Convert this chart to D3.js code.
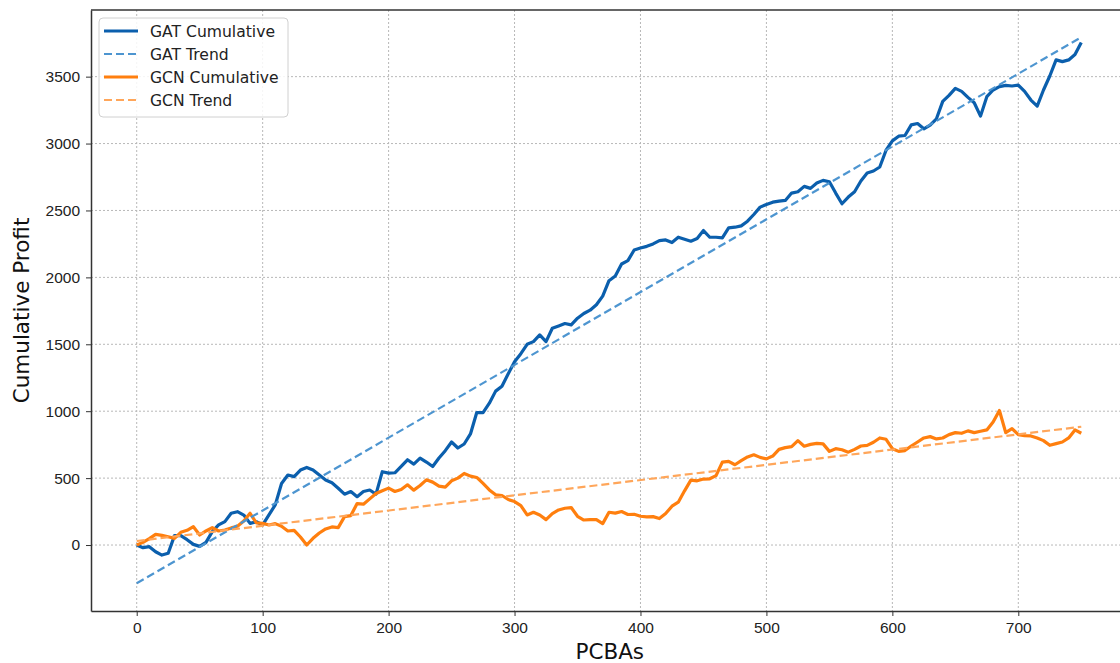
<!DOCTYPE html>
<html>
<head>
<meta charset="utf-8">
<script src="https://cdn.jsdelivr.net/npm/d3@7"></script>
<style>
  body { margin: 0; background: #fff; }
  svg { display: block; font-family: "DejaVu Sans", sans-serif; }
  .grid line { stroke: #b8b8b8; stroke-width: 1; stroke-dasharray: 2,2; }
  .axis path, .axis line { stroke: #333; }
  .axis text { fill: #222; font-size: 15.5px; }
</style>
</head>
<body>
<div id="chart"></div>
<script>

// x positions of the sampled points (every 5 PCBAs)
let pcbas = d3.range(0, 751, 5);

let gatCumulative = [
  0, -20, -12, -50, -75, -62, 70, 70, 40, 5,
  -10, 20, 100, 150, 175, 237, 249, 224, 162, 174,
  150, 225, 300, 460, 523, 511, 560, 580, 561, 523,
  486, 465, 424, 380, 400, 361, 400, 411, 380, 548,
  537, 540, 587, 637, 605, 650, 620, 587, 650, 705,
  770, 725, 755, 830, 990, 990, 1060, 1150, 1187, 1280,
  1370, 1430, 1500, 1520, 1570, 1520, 1620, 1637, 1655, 1645,
  1695, 1730, 1755, 1795, 1860, 1975, 2010, 2100, 2125, 2205,
  2220, 2232, 2250, 2275, 2280, 2260, 2300, 2285, 2270, 2290,
  2350, 2300, 2300, 2295, 2370, 2375, 2385, 2420, 2470, 2525,
  2545, 2562, 2570, 2575, 2630, 2640, 2680, 2665, 2705, 2725,
  2715, 2630, 2550, 2600, 2640, 2720, 2780, 2795, 2825, 2950,
  3020, 3055, 3060, 3140, 3150, 3110, 3137, 3185, 3315, 3360,
  3412, 3390, 3345, 3305, 3205, 3350, 3400, 3425, 3435, 3430,
  3437, 3390, 3325, 3280, 3400, 3505, 3625, 3612, 3625, 3665,
  3755
];

let gcnCumulative = [
  0, 20, 48, 80, 72, 62, 50, 95, 110, 137,
  75, 105, 130, 105, 112, 128, 140, 180, 237, 165,
  162, 150, 160, 140, 105, 110, 60, 0, 50, 90,
  120, 135, 130, 212, 220, 310, 305, 345, 385, 405,
  425, 400, 415, 450, 410, 445, 487, 470, 440, 433,
  480, 500, 535, 515, 505, 460, 412, 375, 370, 340,
  325, 295, 225, 245, 225, 190, 235, 262, 275, 280,
  215, 187, 190, 190, 160, 245, 238, 250, 228, 230,
  215, 210, 212, 198, 235, 290, 320, 405, 485, 480,
  493, 495, 519, 619, 625, 600, 630, 658, 674, 655,
  644, 665, 715, 728, 735, 780, 738, 752, 760, 756,
  700, 720, 712, 694, 715, 740, 745, 768, 800, 790,
  720, 700, 706, 740, 770, 800, 810, 793, 800, 825,
  840, 835, 853, 840, 850, 860, 920, 1005, 840, 870,
  825, 818, 815, 800, 780, 745, 758, 770, 800, 860,
  835
];

// fitted trend lines, end points at PCBA 0 and 750
let trendX = [0, 750];
let gatTrend = [-286, 3794];
let gcnTrend = [30, 884];

let xTicks = [0, 100, 200, 300, 400, 500, 600, 700];
let yTicks = [0, 500, 1000, 1500, 2000, 2500, 3000, 3500];

let series = [
  { label: "GAT Cumulative", color: "#0b5fad", width: 3.2, dash: null, ys: gatCumulative, xs: pcbas },
  { label: "GAT Trend", color: "#4d95d0", width: 2.2, dash: "8,4", ys: gatTrend, xs: trendX },
  { label: "GCN Cumulative", color: "#ff7f0e", width: 3.2, dash: null, ys: gcnCumulative, xs: pcbas },
  { label: "GCN Trend", color: "#ffa65a", width: 2.2, dash: "8,4", ys: gcnTrend, xs: trendX }
];

let width = 1120, height = 663;
let plot = { left: 91, top: 10, right: 1128.5, bottom: 611 };

let svg = d3.select("#chart").append("svg")
  .attr("width", width)
  .attr("height", height);

let x = d3.scaleLinear().domain([-36.3, 787.5]).range([plot.left, plot.right]);
let y = d3.scaleLinear().domain([-493, 3998]).range([plot.bottom, plot.top]);

// grid
let grid = svg.append("g").attr("class", "grid");
grid.selectAll(".gx").data(xTicks).enter().append("line")
  .attr("x1", d => x(d)).attr("x2", d => x(d))
  .attr("y1", plot.top).attr("y2", plot.bottom);
grid.selectAll(".gy").data(yTicks).enter().append("line")
  .attr("x1", plot.left).attr("x2", plot.right)
  .attr("y1", d => y(d)).attr("y2", d => y(d));

// lines, trends drawn after their cumulative series
let line = d3.line()
  .x(d => x(d[0]))
  .y(d => y(d[1]));

let drawOrder = [series[0], series[2], series[1], series[3]];
svg.append("g").selectAll("path")
  .data(drawOrder)
  .enter().append("path")
  .attr("d", d => line(d.xs.map((v, i) => [v, d.ys[i]])))
  .attr("fill", "none")
  .attr("stroke", d => d.color)
  .attr("stroke-width", d => d.width)
  .attr("stroke-dasharray", d => d.dash)
  .attr("stroke-linejoin", "round");

// axes
svg.append("g")
  .attr("class", "axis")
  .attr("transform", "translate(0," + plot.bottom + ")")
  .call(d3.axisBottom(x).tickValues(xTicks).tickFormat(d3.format("d")).tickSize(5).tickPadding(6).tickSizeOuter(0))
  .call(g => g.select(".domain").attr("stroke-width", 1.5));

svg.append("g")
  .attr("class", "axis")
  .attr("transform", "translate(" + plot.left + ",0)")
  .call(d3.axisLeft(y).tickValues(yTicks).tickFormat(d3.format("d")).tickSize(5).tickPadding(6).tickSizeOuter(0))
  .call(g => g.select(".domain").attr("stroke-width", 1.5));

svg.append("line")
  .attr("x1", plot.left).attr("x2", plot.right)
  .attr("y1", plot.top).attr("y2", plot.top)
  .attr("stroke", "#333").attr("stroke-width", 1.5);

// axis labels
svg.append("text")
  .attr("x", (plot.left + plot.right) / 2)
  .attr("y", 659)
  .attr("text-anchor", "middle")
  .attr("font-size", "21.5px")
  .attr("fill", "#111")
  .text("PCBAs");

svg.append("text")
  .attr("transform", "translate(29," + (plot.top + plot.bottom) / 2 + ") rotate(-90)")
  .attr("text-anchor", "middle")
  .attr("font-size", "21.5px")
  .attr("fill", "#111")
  .text("Cumulative Profit");

// legend
let legend = svg.append("g").attr("transform", "translate(99,18)");
legend.append("rect")
  .attr("width", 189).attr("height", 99)
  .attr("rx", 4)
  .attr("fill", "#fff").attr("fill-opacity", 0.85)
  .attr("stroke", "#d0d0d0");

let item = legend.selectAll(".item")
  .data(series)
  .enter().append("g")
  .attr("transform", (d, i) => "translate(0," + (13 + i * 23) + ")");

item.append("line")
  .attr("x1", 5).attr("x2", 39)
  .attr("stroke", d => d.color)
  .attr("stroke-width", d => d.width)
  .attr("stroke-dasharray", d => d.dash);

item.append("text")
  .attr("x", 51).attr("y", 5.5)
  .attr("font-size", "15.6px")
  .attr("fill", "#222")
  .text(d => d.label);

</script>
</body>
</html>
